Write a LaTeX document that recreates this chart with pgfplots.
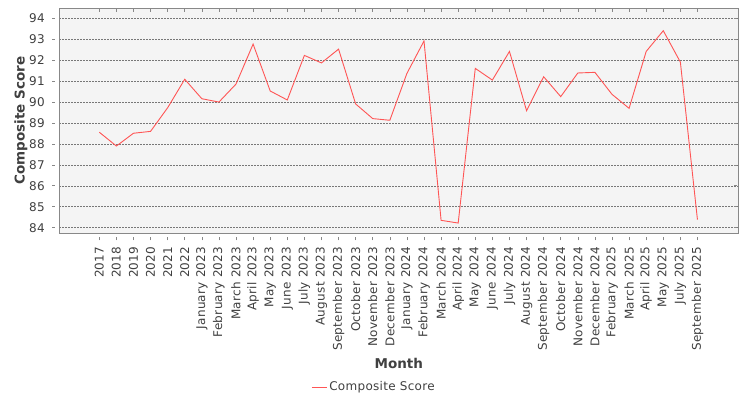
\documentclass[border=0pt]{standalone}
\usepackage{pgfplots}
\pgfplotsset{compat=1.18}
\usepackage{fontspec}
\setmainfont{DejaVu Sans}
\newfontfamily\tickfont[LetterSpace=2.5]{DejaVu Sans}
\definecolor{plotbg}{HTML}{F4F4F4}
\definecolor{frame}{HTML}{888888}
\definecolor{gridc}{HTML}{777777}
\definecolor{txt}{HTML}{404040}
\definecolor{series}{HTML}{FF5555}
\begin{document}
\begin{tikzpicture}
\begin{axis}[
    at={(0,0)}, anchor=south west,
    scale only axis,
    width=679bp, height=225bp,
    xmin=-2.34, xmax=37.39,
    ymin=83.73, ymax=94.48,
    xtick={0,...,35},
    xticklabels={2017,2018,2019,2020,2021,2022,
      January 2023,February 2023,March 2023,April 2023,May 2023,June 2023,
      July 2023,August 2023,September 2023,October 2023,November 2023,December 2023,
      January 2024,February 2024,March 2024,April 2024,May 2024,June 2024,
      July 2024,August 2024,September 2024,October 2024,November 2024,December 2024,
      February 2025,March 2025,April 2025,May 2025,July 2025,September 2025},
    ytick={84,85,...,94},
    /pgf/number format/assume math mode=true,
    axis background/.style={fill=plotbg},
    axis line style={frame, line width=0.8bp},
    tick align=outside,
    major tick length=3bp,
    tick style={frame, line width=0.6bp},
    xtick style={yshift=-4bp},
    ytick style={xshift=-4bp},
    ymajorgrids=true,
    grid style={gridc, line width=0.5bp, dash pattern=on 1.5bp off 1.5bp},
    ticklabel style={font=\tickfont\fontsize{12bp}{14bp}\selectfont, text=txt},
    xticklabel style={yshift=-10bp, rotate=90, anchor=east, inner sep=0pt},
    yticklabel style={anchor=east, inner sep=0pt, xshift=-11.4bp},
    xlabel={Month},
    ylabel={Composite Score},
    label style={font=\fontsize{13.5bp}{15bp}\selectfont\bfseries, text=txt},
    xlabel style={at={(axis description cs:0.5,-0.58)}, anchor=center},
    ylabel style={at={(axis description cs:-0.0564,0.5)}, anchor=center},
    legend style={at={(0.4635,-0.683)}, anchor=center, draw=none, fill=none,
      font=\tickfont\fontsize{12bp}{14bp}\selectfont, text=txt,
      /tikz/every even column/.append style={column sep=0pt}},
    legend image code/.code={\draw[#1] (0bp,0bp) -- (15bp,0bp);},
    ]
\draw[frame, line width=0.8bp] ([yshift=-4bp]rel axis cs:0,0) -- ([yshift=-4bp]rel axis cs:1,0);
\draw[frame, line width=0.8bp] ([xshift=-4bp]rel axis cs:0,0) -- ([xshift=-4bp]rel axis cs:0,1);
\addplot[series, line width=0.9bp] coordinates {
    (0,88.56)(1,87.90)(2,88.51)(3,88.60)(4,89.73)(5,91.09)
    (6,90.16)(7,90.00)(8,90.86)(9,92.77)(10,90.53)(11,90.10)
    (12,92.23)(13,91.87)(14,92.53)(15,89.91)(16,89.21)(17,89.13)
    (18,91.37)(19,92.92)(20,84.35)(21,84.22)(22,91.61)(23,91.05)
    (24,92.42)(25,89.59)(26,91.21)(27,90.26)(28,91.39)(29,91.42)
    (30,90.37)(31,89.70)(32,92.42)(33,93.41)(34,91.91)(35,84.38)
};
\legend{Composite Score}
\end{axis}
\path (-59.3bp,-166.7bp) rectangle (690.7bp,233.3bp);
\end{tikzpicture}
\end{document}
